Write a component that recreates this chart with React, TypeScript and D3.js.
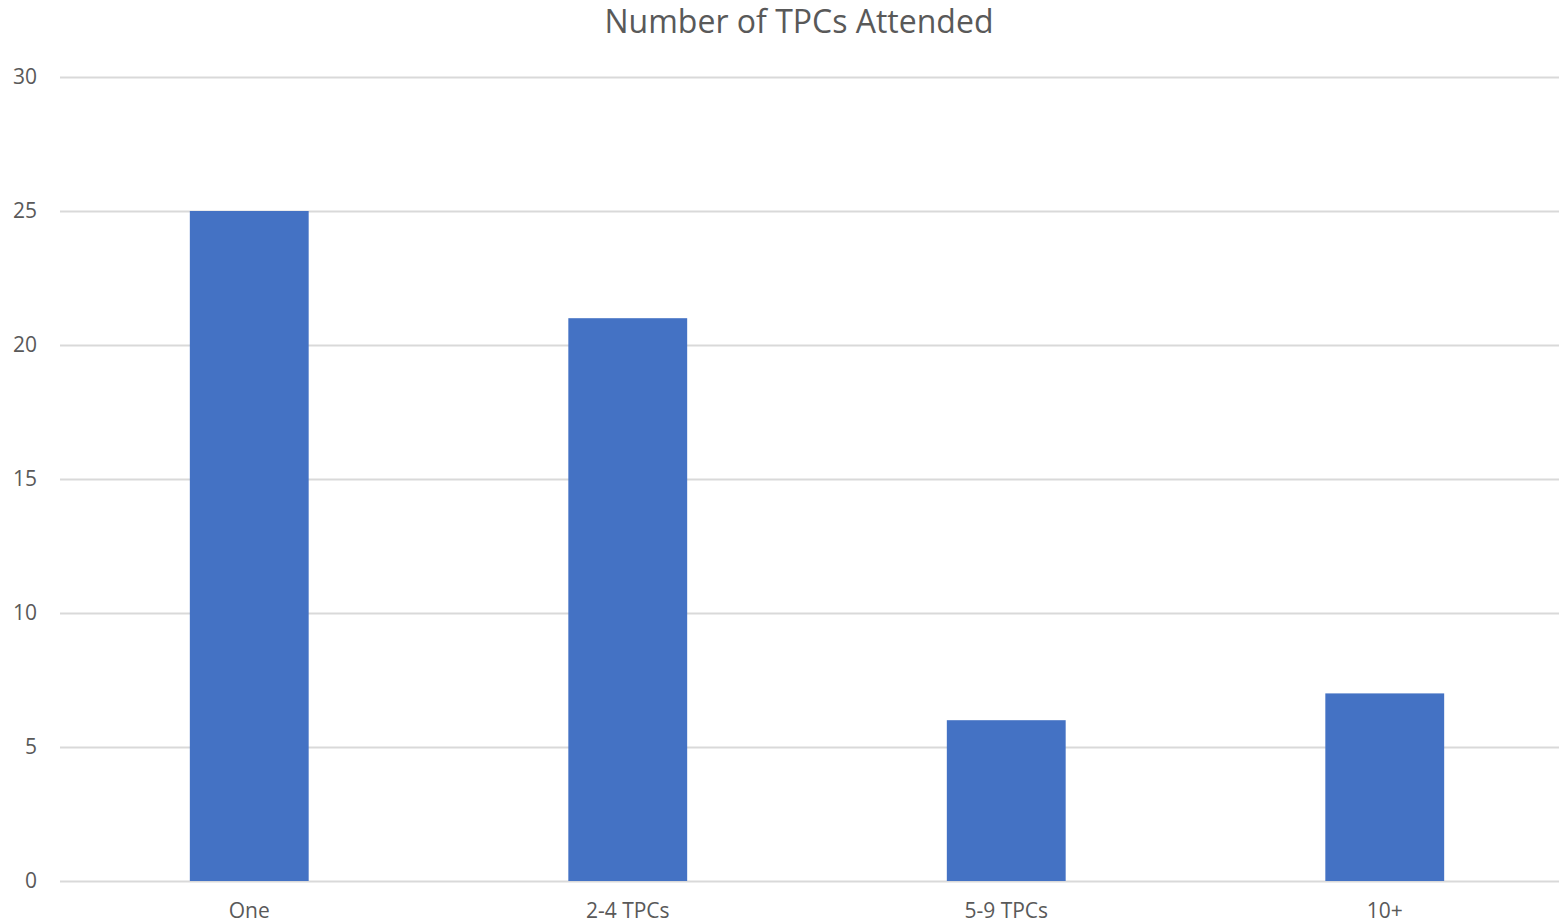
import React from 'react'
import * as d3 from 'd3'

const categories = ['One', '2-4 TPCs', '5-9 TPCs', '10+']
const counts = [25, 21, 6, 7]
const yTicks = [0, 5, 10, 15, 20, 25, 30]

const App: React.FunctionComponent = () => {
  const reference = React.useRef<SVGSVGElement>(null)

  React.useEffect(() => {
    const width = 1559
    const height = 923
    const left = 60
    const top = 77
    const bottom = 881
    const font = "'Open Sans', sans-serif"
    const grey = '#595959'

    const svg = d3.select(reference.current)
    svg.selectAll('*').remove()

    const x = d3
      .scaleBand<string>()
      .domain(categories)
      .range([left, 1574])
      .paddingInner(0.686)
      .paddingOuter(0.343)

    const y = d3.scaleLinear().domain([0, 30]).range([bottom, top])

    svg
      .append('text')
      .attr('x', 799)
      .attr('y', 33)
      .attr('text-anchor', 'middle')
      .attr('font-family', font)
      .attr('font-size', 32)
      .attr('fill', grey)
      .text('Number of TPCs Attended')

    svg
      .append('g')
      .selectAll('line')
      .data(yTicks)
      .join('line')
      .attr('x1', left)
      .attr('x2', width)
      .attr('y1', d => Math.round(y(d)) + 0.5)
      .attr('y2', d => Math.round(y(d)) + 0.5)
      .attr('stroke', '#d9d9d9')
      .attr('stroke-width', 2)

    svg
      .append('g')
      .selectAll('text')
      .data(yTicks)
      .join('text')
      .attr('x', 37)
      .attr('y', d => y(d))
      .attr('dy', '0.35em')
      .attr('text-anchor', 'end')
      .attr('font-family', font)
      .attr('font-size', 21)
      .attr('fill', grey)
      .text(d => d)

    svg
      .append('g')
      .selectAll('rect')
      .data(counts)
      .join('rect')
      .attr('x', (_, i) => x(categories[i]) ?? 0)
      .attr('width', x.bandwidth())
      .attr('y', d => y(d))
      .attr('height', d => bottom - y(d))
      .attr('fill', '#4472c4')

    svg
      .append('g')
      .selectAll('text')
      .data(categories)
      .join('text')
      .attr('x', d => (x(d) ?? 0) + x.bandwidth() / 2)
      .attr('y', 918)
      .attr('text-anchor', 'middle')
      .attr('font-family', font)
      .attr('font-size', 21)
      .attr('fill', grey)
      .text(d => d)

    svg.attr('width', width).attr('height', height)
  }, [])

  return (
    <svg
      ref={reference}
      width={1559}
      height={923}
      style={{ position: 'absolute', left: 0, top: 0, background: '#fff' }}
    />
  )
}

export default App
